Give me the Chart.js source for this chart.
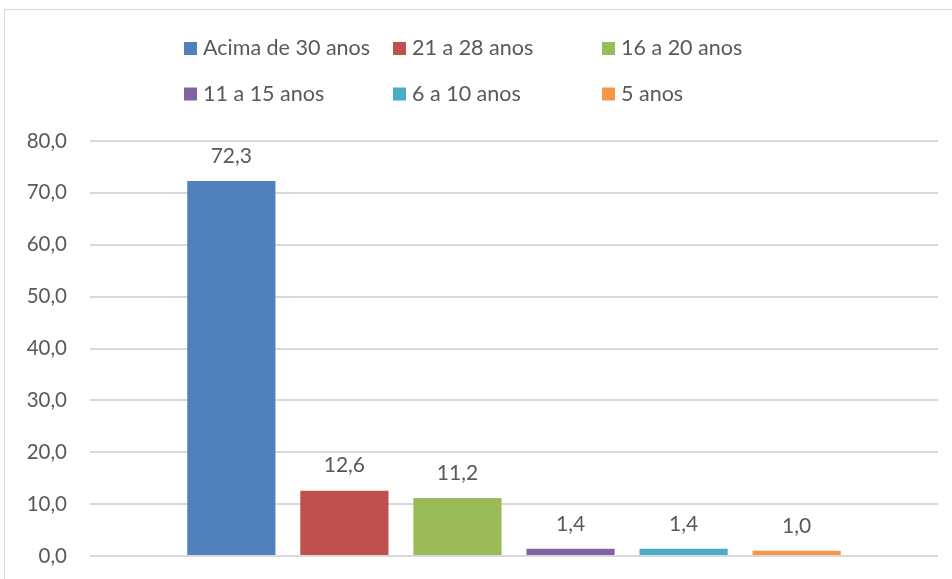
<!DOCTYPE html>
<html>
<head>
<meta charset="utf-8">
<script src="https://cdn.jsdelivr.net/npm/chart.js@4/dist/chart.umd.min.js"></script>
<style>
  html, body { margin: 0; padding: 0; background: #fff; overflow: hidden; }
  #wrap { position: relative; width: 952px; height: 579px; }
  #frame { position: absolute; left: 4px; top: 9px; width: 1000px; height: 1000px;
           border-top: 1.5px solid #d9d9d9; border-left: 1.5px solid #d9d9d9; box-sizing: border-box; }
  canvas { position: absolute; left: 0; top: 0; }
</style>
</head>
<body>
<div id="wrap">
  <div id="frame"></div>
  <canvas id="c" width="952" height="579"></canvas>
</div>
<script>
const categories = [''];
const seriesNames = ['Acima de 30 anos', '21 a 28 anos', '16 a 20 anos', '11 a 15 anos', '6 a 10 anos', '5 anos'];
const seriesValues = [72.3, 12.6, 11.2, 1.4, 1.4, 1.0];
const seriesColors = ['#4F81BD', '#C0504D', '#9BBB59', '#8064A2', '#4BACC6', '#F79646'];
const yTicks = [0, 10, 20, 30, 40, 50, 60, 70, 80];

const FONT = 'Lato, "Open Sans", sans-serif';
const TEXT = '#595959';
const fmt = v => Number(v).toFixed(1).replace('.', ',');

const datasets = seriesNames.map((name, i) => ({
  label: name,
  data: [seriesValues[i]],
  backgroundColor: seriesColors[i],
  borderWidth: 0,
  categoryPercentage: 0.8,
  barPercentage: 0.78
}));

const valueLabels = {
  id: 'valueLabels',
  afterDatasetsDraw(chart) {
    const ctx = chart.ctx;
    ctx.save();
    ctx.fillStyle = TEXT;
    ctx.font = '21px ' + FONT;
    ctx.textAlign = 'center';
    ctx.textBaseline = 'middle';
    chart.data.datasets.forEach((ds, i) => {
      const meta = chart.getDatasetMeta(i);
      meta.data.forEach((bar, j) => {
        ctx.fillText(fmt(ds.data[j]), bar.x, bar.y - 25);
      });
    });
    ctx.restore();
  }
};

const gridLegend = {
  id: 'gridLegend',
  afterDraw(chart) {
    const ctx = chart.ctx;
    const cols = [184, 393, 602];
    const rows = [48.5, 94];
    ctx.save();
    ctx.font = '21.5px ' + FONT;
    ctx.textBaseline = 'middle';
    ctx.textAlign = 'left';
    chart.data.datasets.forEach((ds, i) => {
      const x = cols[i % 3];
      const y = rows[Math.floor(i / 3)];
      ctx.fillStyle = ds.backgroundColor;
      ctx.fillRect(x, y - 6.5, 13, 13);
      ctx.fillStyle = TEXT;
      ctx.fillText(ds.label, x + 19, y);
    });
    ctx.restore();
  }
};

new Chart(document.getElementById('c'), {
  type: 'bar',
  data: { labels: categories, datasets },
  options: {
    responsive: false,
    animation: false,
    layout: { padding: { top: 141, bottom: 23, right: 14, left: 0 } },
    plugins: { legend: { display: false }, tooltip: { enabled: false } },
    scales: {
      x: { display: false },
      y: {
        min: 0, max: 80,
        afterBuildTicks(scale) { scale.ticks = yTicks.map(v => ({ value: v })); },
        afterFit(scale) { scale.width = 90; scale.paddingTop = 0; scale.paddingBottom = 0; },
        border: { display: false },
        grid: { color: '#d9d9d9', lineWidth: 2, drawTicks: false },
        ticks: {
          padding: 23,
          color: TEXT,
          font: { family: FONT, size: 20.5 },
          callback: v => fmt(v)
        }
      }
    }
  },
  plugins: [valueLabels, gridLegend]
});
</script>
</body>
</html>
